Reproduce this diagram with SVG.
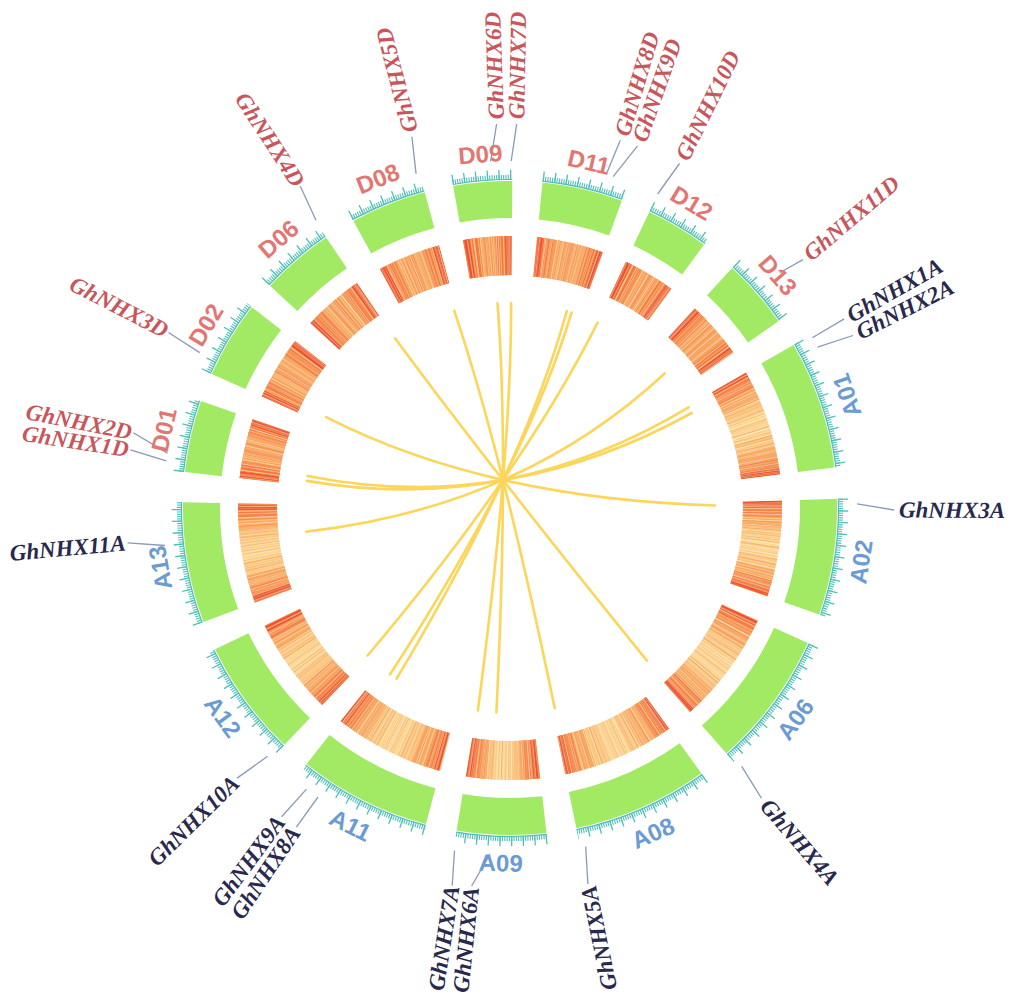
<svg xmlns="http://www.w3.org/2000/svg" width="1010" height="998" viewBox="0 0 1010 998">
<style>
.green{fill:none;stroke:#a2e964;stroke-width:37}
.axis{fill:none;stroke:#4fbfba;stroke-width:1.2}
.tmin{fill:none;stroke:#4fbfba;stroke-width:4.8;stroke-dasharray:1.1 1.209}
.tmaj{fill:none;stroke:#4fbfba;stroke-width:10;stroke-dasharray:1.3 10.332}
.hm{fill:none;stroke-width:39}
.gapout{fill:none;stroke:#ffffff;stroke-width:42}
.link{fill:none;stroke:#fcd55b;stroke-width:2.6;stroke-linecap:round}
.lead{fill:none;stroke:#8a9bb5;stroke-width:1.3}
.cl{font-family:"Liberation Sans",Arial,sans-serif;font-weight:bold;font-size:24px;text-anchor:middle;dominant-baseline:central}
.cD{fill:#e27772}
.cA{fill:#6b9bd3}
.gl{font-family:"Liberation Serif","Times New Roman",serif;font-style:italic;font-weight:bold;font-size:23px;dominant-baseline:central}
.gD{fill:#c8565a}
.gA{fill:#29284d}
.st{text-anchor:start}
.en{text-anchor:end}
</style>
<rect width="1010" height="998" fill="#ffffff"/>
<g transform="translate(510,508)">

<g id="heatmap-track">
<circle class="hm" r="252.5" stroke="#fddd9e"/>
<circle class="hm" r="252.5" stroke="#f68c50" stroke-opacity="0.8" pathLength="360" transform="rotate(-84.3)" stroke-dasharray="14.3 5.2 11.2 6.4 12.4 221.1 12.8 5.1 13.7 4.9 13 5.6 13.5 5.1 10.4 5.3"/>
<circle class="hm" r="252.5" stroke="#f9b46a" stroke-opacity="0.45" pathLength="360" transform="rotate(-84.3)" stroke-dasharray="5.7 2.9 5.7 5.2 4.5 2.2 4.5 6.4 5 2.4 5 4.9 9.1 4.6 9.1 5.5 8.2 4.2 8.2 5.4 9.7 4.8 9.7 5.6 9.6 4.9 9.6 5.3 6.3 3.2 6.3 5.5 9.4 4.8 9.4 5.1 8.3 4.2 8.3 5.2 8.6 4.2 8.6 5.3 5.1 2.6 5.1 5.1 5.5 2.7 5.5 4.9 5.2 2.6 5.2 5.6 5.4 2.7 5.4 5.1 4.2 2 4.2 5.3"/>
<circle class="hm" r="252.5" stroke="#f7904e" stroke-opacity="0.55" pathLength="360" transform="rotate(-84.3)" stroke-dasharray="4 6.3 4 5.2 3.1 5 3.1 6.4 3.5 5.4 3.5 4.9 6.4 10 6.4 5.5 5.8 9 5.8 5.4 6.8 10.6 6.8 5.6 6.7 10.7 6.7 5.3 4.4 7 4.4 5.5 6.6 10.4 6.6 5.1 5.8 9.2 5.8 5.2 6 9.4 6 5.3 3.6 5.6 3.6 5.1 3.8 6.1 3.8 4.9 3.6 5.8 3.6 5.6 3.8 5.9 3.8 5.1 2.9 4.6 2.9 5.3"/>
<circle class="hm" r="252.5" stroke="#f26a3c" stroke-opacity="0.6" pathLength="360" transform="rotate(-84.3)" stroke-dasharray="3.5 7.3 3.5 5.2 3.5 4.2 3.5 6.4 3.5 5.4 3.5 4.9 3.5 15.8 3.5 5.5 3.5 13.6 3.5 5.4 3.5 17.2 3.5 5.6 3.5 17.1 3.5 5.3 3.5 8.8 3.5 5.5 3.5 16.6 3.5 5.1 3.5 13.8 3.5 5.2 3.5 14.4 3.5 5.3 3.5 5.8 3.5 5.1 3.5 6.7 3.5 4.9 3.5 6 3.5 5.6 3.5 6.5 3.5 5.1 3.5 3.4 3.5 5.3"/>
<circle class="hm" r="252.5" stroke="#e9432b" stroke-opacity="0.75" pathLength="360" transform="rotate(-84.3)" stroke-dasharray="1.4 11.5 1.4 5.2 1.4 8.4 1.4 6.4 1.4 9.6 1.4 4.9 1.4 20 1.4 5.5 1.4 17.8 1.4 5.4 1.4 21.4 1.4 5.6 1.4 21.3 1.4 5.3 1.4 13 1.4 5.5 1.4 20.8 1.4 5.1 1.4 18 1.4 5.2 1.4 18.6 1.4 5.3 1.4 10 1.4 5.1 1.4 10.9 1.4 4.9 1.4 10.2 1.4 5.6 1.4 10.7 1.4 5.1 1.4 7.6 1.4 5.3"/>
<circle class="hm" r="252.5" stroke="#fff5dc" stroke-opacity="0.6" stroke-dasharray="0.7 2.6 0.4 1.9 1.1 3.4 0.5 1.3 0.8 4.2"/>
<circle class="hm" r="252.5" stroke="#fbd065" stroke-opacity="0.45" stroke-dasharray="1.2 2.2 0.6 3.1 0.9 1.5 1.6 2.7"/>
<circle class="hm" r="252.5" stroke="#ee5a36" stroke-opacity="0.3" stroke-dasharray="0.6 3.7 1 2.4 0.5 5.1 0.8 1.9"/>
<circle class="hm" r="252.5" stroke="#f58a4a" stroke-opacity="0.3" stroke-dasharray="0.5 4.3 0.9 2.9 0.4 1.7"/>
<circle class="hm" r="252.5" stroke="#fffaf0" stroke-opacity="0.35" stroke-dasharray="0.4 3.3 0.6 5.3 0.3 2.1"/>
<circle class="gapout" r="252.5" pathLength="360" transform="rotate(-89.6)" stroke-dasharray="5.3 14.3 5.2 11.2 6.4 12.4 4.9 22.8 5.5 20.6 5.4 24.2 5.6 24.1 5.3 15.8 5.5 23.6 5.1 20.8 5.2 21.4 5.3 12.8 5.1 13.7 4.9 13 5.6 13.5 5.1 10.4"/>
</g>

<g id="leaders">
<path class="lead" d="M302.3,-170.3L334.2,-189.1"/>
<path class="lead" d="M307.5,-160.8L343,-172.5"/>
<path class="lead" d="M347,-4.2L384,2"/>
<path class="lead" d="M231.7,258.3L251.4,290.2"/>
<path class="lead" d="M75.7,338.6L77.9,376"/>
<path class="lead" d="M-20,346.4L-38.4,378"/>
<path class="lead" d="M-55.5,342.5L-57.8,377.6"/>
<path class="lead" d="M-192,289L-213.6,319.1"/>
<path class="lead" d="M-203.5,281.1L-228.4,308.7"/>
<path class="lead" d="M-242.4,248.3L-272.9,270.1"/>
<path class="lead" d="M-345,37.5L-382.4,34.8"/>
<path class="lead" d="M-343.8,-47.1L-379.6,-58.1"/>
<path class="lead" d="M-342.6,-54.9L-376.6,-75.2"/>
<path class="lead" d="M-310.3,-155.4L-341.5,-175.5"/>
<path class="lead" d="M-194,-287.7L-209.7,-321.7"/>
<path class="lead" d="M-93.9,-334.1L-98.1,-371.3"/>
<path class="lead" d="M-19.4,-346.5L-13.4,-383.8"/>
<path class="lead" d="M1.2,-347L6.7,-383.9"/>
<path class="lead" d="M96.2,-333.4L110.3,-367.8"/>
<path class="lead" d="M103.2,-331.3L127.5,-362.2"/>
<path class="lead" d="M147.7,-314L169.5,-344.5"/>
<path class="lead" d="M269.8,-235.3L292.9,-248.4"/>
</g>

<g id="chr-D09" transform="rotate(350)">
<circle class="green" r="308.5" pathLength="360" stroke-dasharray="10.4 400" transform="rotate(-90)"/>
<circle class="axis" r="328.5" pathLength="360" stroke-dasharray="10.4 400" transform="rotate(-90)"/>
<path class="tmin" d="M0,-330.75A330.75,330.75 0 0 1 59.707,-325.316"/>
<path class="tmaj" d="M0,-333.25A333.25,333.25 0 0 1 60.158,-327.775"/>
<text class="cl cD" transform="rotate(5.2)" y="-355">D09</text>
</g>
<g id="chr-D11" transform="rotate(5.7)">
<circle class="green" r="308.5" pathLength="360" stroke-dasharray="14.3 400" transform="rotate(-90)"/>
<circle class="axis" r="328.5" pathLength="360" stroke-dasharray="14.3 400" transform="rotate(-90)"/>
<path class="tmin" d="M0,-330.75A330.75,330.75 0 0 1 81.695,-320.503"/>
<path class="tmaj" d="M0,-333.25A333.25,333.25 0 0 1 82.313,-322.926"/>
<text class="cl cD" transform="rotate(7.15)" y="-355">D11</text>
</g>
<g id="chr-D12" transform="rotate(25.2)">
<circle class="green" r="308.5" pathLength="360" stroke-dasharray="11.2 400" transform="rotate(-90)"/>
<circle class="axis" r="328.5" pathLength="360" stroke-dasharray="11.2 400" transform="rotate(-90)"/>
<path class="tmin" d="M0,-330.75A330.75,330.75 0 0 1 64.245,-324.449"/>
<path class="tmaj" d="M0,-333.25A333.25,333.25 0 0 1 64.731,-326.902"/>
<text class="cl cD" transform="rotate(5.6)" y="-355">D12</text>
</g>
<g id="chr-D13" transform="rotate(42.8)">
<circle class="green" r="308.5" pathLength="360" stroke-dasharray="12.4 400" transform="rotate(-90)"/>
<circle class="axis" r="328.5" pathLength="360" stroke-dasharray="12.4 400" transform="rotate(-90)"/>
<path class="tmin" d="M0,-330.75A330.75,330.75 0 0 1 71.022,-323.034"/>
<path class="tmaj" d="M0,-333.25A333.25,333.25 0 0 1 71.559,-325.475"/>
<text class="cl cD" transform="rotate(6.2)" y="-355">D13</text>
</g>
<g id="chr-A01" transform="rotate(60.1)">
<circle class="green" r="308.5" pathLength="360" stroke-dasharray="22.8 400" transform="rotate(-90)"/>
<circle class="axis" r="328.5" pathLength="360" stroke-dasharray="22.8 400" transform="rotate(-90)"/>
<path class="tmin" d="M0,-330.75A330.75,330.75 0 0 1 128.172,-304.905"/>
<path class="tmaj" d="M0,-333.25A333.25,333.25 0 0 1 129.141,-307.21"/>
<text class="cl cA" transform="rotate(191.4)" y="355">A01</text>
</g>
<g id="chr-A02" transform="rotate(88.4)">
<circle class="green" r="308.5" pathLength="360" stroke-dasharray="20.6 400" transform="rotate(-90)"/>
<circle class="axis" r="328.5" pathLength="360" stroke-dasharray="20.6 400" transform="rotate(-90)"/>
<path class="tmin" d="M0,-330.75A330.75,330.75 0 0 1 116.371,-309.602"/>
<path class="tmaj" d="M0,-333.25A333.25,333.25 0 0 1 117.251,-311.942"/>
<text class="cl cA" transform="rotate(190.3)" y="355">A02</text>
</g>
<g id="chr-A06" transform="rotate(114.4)">
<circle class="green" r="308.5" pathLength="360" stroke-dasharray="24.2 400" transform="rotate(-90)"/>
<circle class="axis" r="328.5" pathLength="360" stroke-dasharray="24.2 400" transform="rotate(-90)"/>
<path class="tmin" d="M0,-330.75A330.75,330.75 0 0 1 135.581,-301.684"/>
<path class="tmaj" d="M0,-333.25A333.25,333.25 0 0 1 136.606,-303.964"/>
<text class="cl cA" transform="rotate(192.1)" y="355">A06</text>
</g>
<g id="chr-A08" transform="rotate(144.2)">
<circle class="green" r="308.5" pathLength="360" stroke-dasharray="24.1 400" transform="rotate(-90)"/>
<circle class="axis" r="328.5" pathLength="360" stroke-dasharray="24.1 400" transform="rotate(-90)"/>
<path class="tmin" d="M0,-330.75A330.75,330.75 0 0 1 135.055,-301.922"/>
<path class="tmaj" d="M0,-333.25A333.25,333.25 0 0 1 136.076,-304.204"/>
<text class="cl cA" transform="rotate(192.05)" y="355">A08</text>
</g>
<g id="chr-A09" transform="rotate(173.6)">
<circle class="green" r="308.5" pathLength="360" stroke-dasharray="15.8 400" transform="rotate(-90)"/>
<circle class="axis" r="328.5" pathLength="360" stroke-dasharray="15.8 400" transform="rotate(-90)"/>
<path class="tmin" d="M0,-330.75A330.75,330.75 0 0 1 90.057,-318.254"/>
<path class="tmaj" d="M0,-333.25A333.25,333.25 0 0 1 90.737,-320.66"/>
<text class="cl cA" transform="rotate(187.9)" y="355">A09</text>
</g>
<g id="chr-A11" transform="rotate(194.9)">
<circle class="green" r="308.5" pathLength="360" stroke-dasharray="23.6 400" transform="rotate(-90)"/>
<circle class="axis" r="328.5" pathLength="360" stroke-dasharray="23.6 400" transform="rotate(-90)"/>
<path class="tmin" d="M0,-330.75A330.75,330.75 0 0 1 132.416,-303.086"/>
<path class="tmaj" d="M0,-333.25A333.25,333.25 0 0 1 133.417,-305.377"/>
<text class="cl cA" transform="rotate(191.8)" y="355">A11</text>
</g>
<g id="chr-A12" transform="rotate(223.6)">
<circle class="green" r="308.5" pathLength="360" stroke-dasharray="20.8 400" transform="rotate(-90)"/>
<circle class="axis" r="328.5" pathLength="360" stroke-dasharray="20.8 400" transform="rotate(-90)"/>
<path class="tmin" d="M0,-330.75A330.75,330.75 0 0 1 117.453,-309.195"/>
<path class="tmaj" d="M0,-333.25A333.25,333.25 0 0 1 118.34,-311.532"/>
<text class="cl cA" transform="rotate(190.4)" y="355">A12</text>
</g>
<g id="chr-A13" transform="rotate(249.6)">
<circle class="green" r="308.5" pathLength="360" stroke-dasharray="21.4 400" transform="rotate(-90)"/>
<circle class="axis" r="328.5" pathLength="360" stroke-dasharray="21.4 400" transform="rotate(-90)"/>
<path class="tmin" d="M0,-330.75A330.75,330.75 0 0 1 120.684,-307.948"/>
<path class="tmaj" d="M0,-333.25A333.25,333.25 0 0 1 121.596,-310.276"/>
<text class="cl cA" transform="rotate(10.7)" y="-355">A13</text>
</g>
<g id="chr-D01" transform="rotate(276.3)">
<circle class="green" r="308.5" pathLength="360" stroke-dasharray="12.8 400" transform="rotate(-90)"/>
<circle class="axis" r="328.5" pathLength="360" stroke-dasharray="12.8 400" transform="rotate(-90)"/>
<path class="tmin" d="M0,-330.75A330.75,330.75 0 0 1 73.278,-322.531"/>
<path class="tmaj" d="M0,-333.25A333.25,333.25 0 0 1 73.832,-324.969"/>
<text class="cl cD" transform="rotate(6.4)" y="-355">D01</text>
</g>
<g id="chr-D02" transform="rotate(294.2)">
<circle class="green" r="308.5" pathLength="360" stroke-dasharray="13.7 400" transform="rotate(-90)"/>
<circle class="axis" r="328.5" pathLength="360" stroke-dasharray="13.7 400" transform="rotate(-90)"/>
<path class="tmin" d="M0,-330.75A330.75,330.75 0 0 1 78.335,-321.34"/>
<path class="tmaj" d="M0,-333.25A333.25,333.25 0 0 1 78.927,-323.769"/>
<text class="cl cD" transform="rotate(6.85)" y="-355">D02</text>
</g>
<g id="chr-D06" transform="rotate(312.8)">
<circle class="green" r="308.5" pathLength="360" stroke-dasharray="13 400" transform="rotate(-90)"/>
<circle class="axis" r="328.5" pathLength="360" stroke-dasharray="13 400" transform="rotate(-90)"/>
<path class="tmin" d="M0,-330.75A330.75,330.75 0 0 1 74.402,-322.273"/>
<path class="tmaj" d="M0,-333.25A333.25,333.25 0 0 1 74.965,-324.709"/>
<text class="cl cD" transform="rotate(6.5)" y="-355">D06</text>
</g>
<g id="chr-D08" transform="rotate(331.4)">
<circle class="green" r="308.5" pathLength="360" stroke-dasharray="13.5 400" transform="rotate(-90)"/>
<circle class="axis" r="328.5" pathLength="360" stroke-dasharray="13.5 400" transform="rotate(-90)"/>
<path class="tmin" d="M0,-330.75A330.75,330.75 0 0 1 77.214,-321.611"/>
<path class="tmaj" d="M0,-333.25A333.25,333.25 0 0 1 77.797,-324.042"/>
<text class="cl cD" transform="rotate(6.75)" y="-355">D08</text>
</g>

<g id="links">
<path class="link" d="M-203.2,-27.1Q-1.7,7.85 178.6,-100.6"/>
<path class="link" d="M-202.5,-32.1Q-3.6,7.55 181.7,-95"/>
<path class="link" d="M-183.8,-90.8Q-24.6,-9.35 205,-2.5"/>
<path class="link" d="M-114.9,-169.8Q-25,-47.4 136.9,152.6"/>
<path class="link" d="M-55.8,-197.3Q-8.45,-57.4 44.7,200.1"/>
<path class="link" d="M-12.5,-204.6Q-0.95,-55.95 -13.6,204.5"/>
<path class="link" d="M1.1,-205Q1.5,-54.75 -32.1,202.5"/>
<path class="link" d="M56.8,-197Q14.3,-42.85 -113.4,170.7"/>
<path class="link" d="M61.6,-195.5Q15.15,-41.4 -119.9,166.3"/>
<path class="link" d="M87.6,-185.3Q13.4,-37.1 -142.4,147.5"/>
<path class="link" d="M154.7,-134.5Q10.45,-0.55 -203.6,23.6"/>
</g>

<g id="gene-labels">
<g id="lab-GhNHX1A"><text class="gl gA st" transform="rotate(-29.5)" x="389">GhNHX1A</text></g>
<g id="lab-GhNHX2A"><text class="gl gA st" transform="rotate(-26.7)" x="389">GhNHX2A</text></g>
<g id="lab-GhNHX3A"><text class="gl gA st" transform="rotate(0.3)" x="389">GhNHX3A</text></g>
<g id="lab-GhNHX4A"><text class="gl gA st" transform="rotate(49.1)" x="389">GhNHX4A</text></g>
<g id="lab-GhNHX5A"><text class="gl gA en" transform="rotate(258.3)" x="-386">GhNHX5A</text></g>
<g id="lab-GhNHX6A"><text class="gl gA en" transform="rotate(275.8)" x="-381">GhNHX6A</text></g>
<g id="lab-GhNHX7A"><text class="gl gA en" transform="rotate(278.7)" x="-382">GhNHX7A</text></g>
<g id="lab-GhNHX8A"><text class="gl gA en" transform="rotate(303.8)" x="-386">GhNHX8A</text></g>
<g id="lab-GhNHX9A"><text class="gl gA en" transform="rotate(306.5)" x="-386">GhNHX9A</text></g>
<g id="lab-GhNHX10A"><text class="gl gA en" transform="rotate(315.3)" x="-386">GhNHX10A</text></g>
<g id="lab-GhNHX11A"><text class="gl gA en" transform="rotate(354.8)" x="-386">GhNHX11A</text></g>
<g id="lab-GhNHX1D"><text class="gl gD en" transform="rotate(8.7)" x="-386">GhNHX1D</text></g>
<g id="lab-GhNHX2D"><text class="gl gD en" transform="rotate(11.3)" x="-386">GhNHX2D</text></g>
<g id="lab-GhNHX3D"><text class="gl gD en" transform="rotate(27.2)" x="-386">GhNHX3D</text></g>
<g id="lab-GhNHX4D"><text class="gl gD en" transform="rotate(56.9)" x="-386">GhNHX4D</text></g>
<g id="lab-GhNHX5D"><text class="gl gD st" transform="rotate(255.2)" x="389">GhNHX5D</text></g>
<g id="lab-GhNHX6D"><text class="gl gD st" transform="rotate(268)" x="389">GhNHX6D</text></g>
<g id="lab-GhNHX7D"><text class="gl gD st" transform="rotate(-89)" x="389">GhNHX7D</text></g>
<g id="lab-GhNHX8D"><text class="gl gD st" transform="rotate(-73.3)" x="389">GhNHX8D</text></g>
<g id="lab-GhNHX9D"><text class="gl gD st" transform="rotate(-70.6)" x="389">GhNHX9D</text></g>
<g id="lab-GhNHX10D"><text class="gl gD st" transform="rotate(-63.8)" x="389">GhNHX10D</text></g>
<g id="lab-GhNHX11D"><text class="gl gD st" transform="rotate(-40.3)" x="389">GhNHX11D</text></g>
</g>

</g>
</svg>
